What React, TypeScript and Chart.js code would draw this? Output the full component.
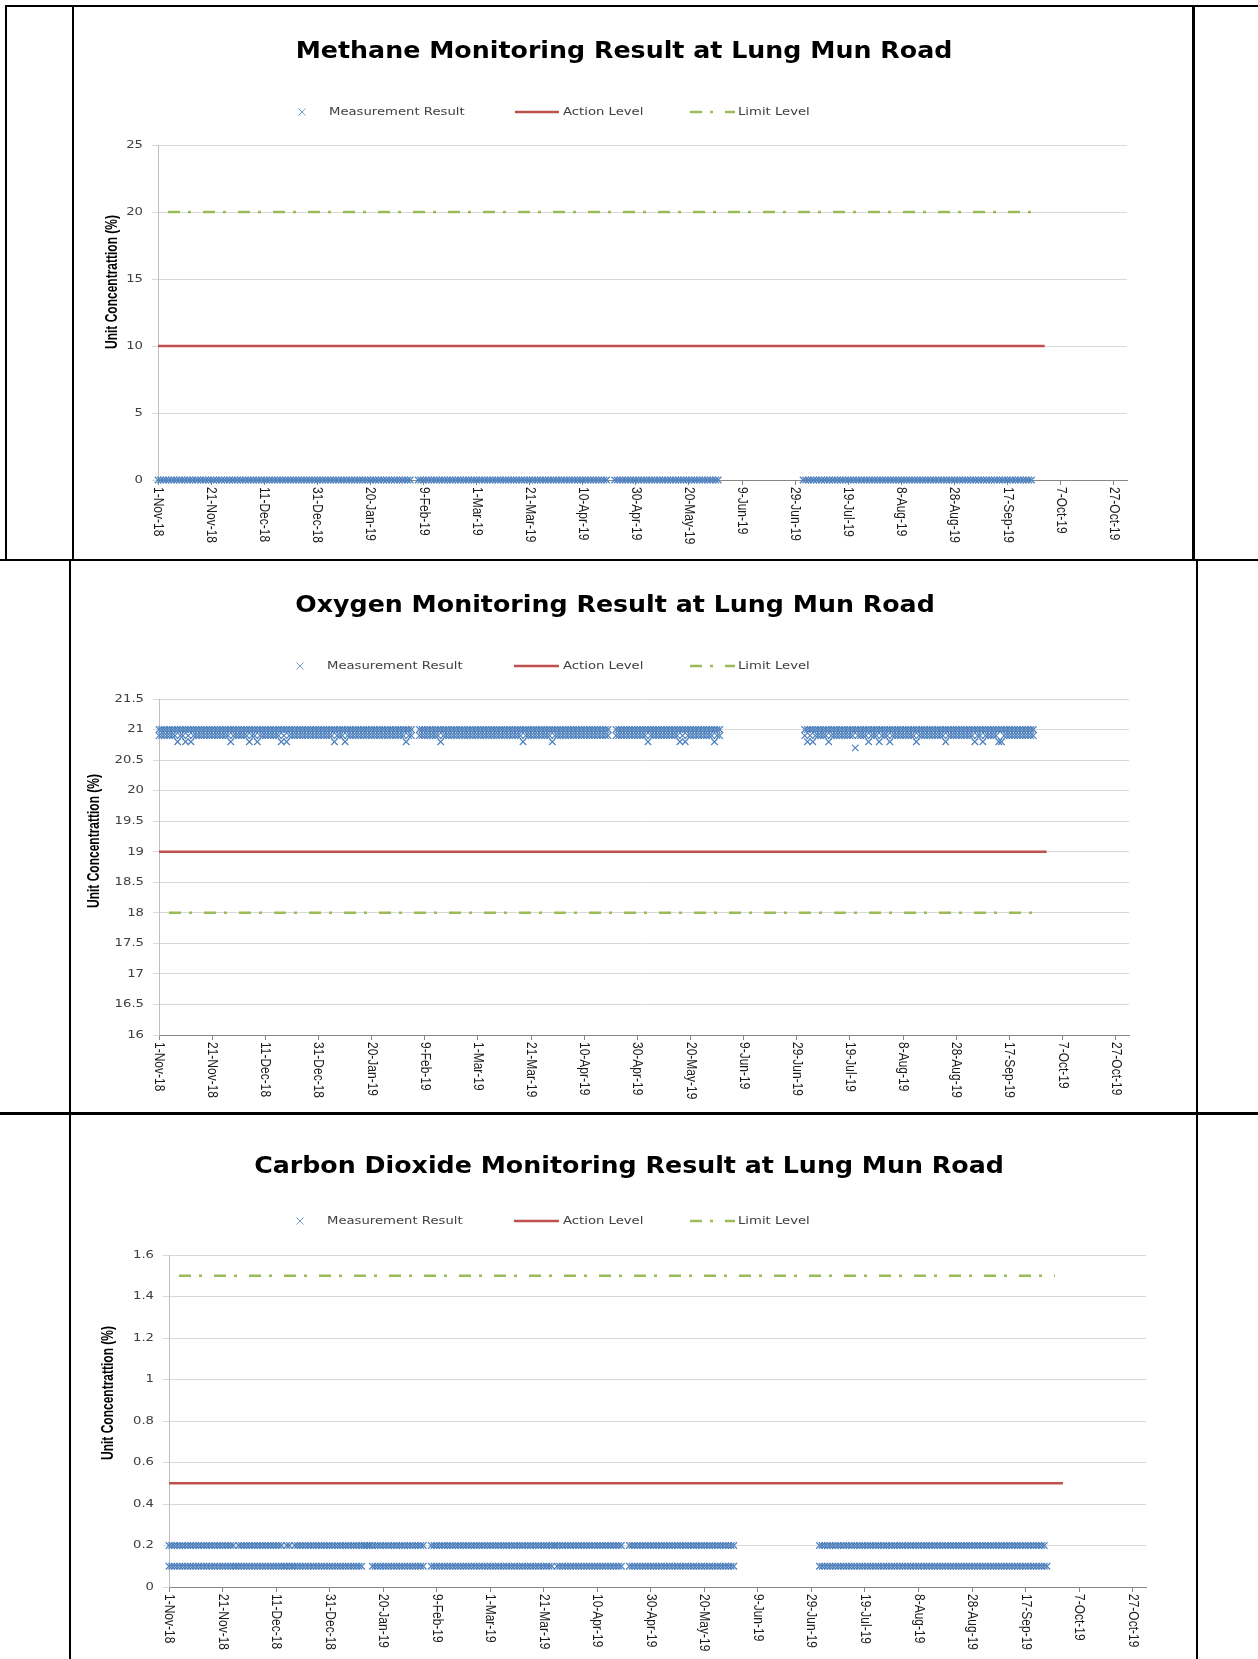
import React, { useEffect, useRef } from 'react';
import { Chart, registerables } from 'chart.js';

Chart.register(...registerables);

// ---------------- data ----------------
const chartTitles = [
  'Methane Monitoring Result at Lung Mun Road',
  'Oxygen Monitoring Result at Lung Mun Road',
  'Carbon Dioxide Monitoring Result at Lung Mun Road',
];
const seriesNames = ['Measurement Result', 'Action Level', 'Limit Level'];
const yAxisTitle = 'Unit Concentrattion (%)';

const xAxisStart = '2018-11-01';
const xAxisEnd = '2019-11-01';
const xTickDates = [
  '2018-11-01', '2018-11-21', '2018-12-11', '2018-12-31', '2019-01-20', '2019-02-09', '2019-03-01',
  '2019-03-21', '2019-04-10', '2019-04-30', '2019-05-20', '2019-06-09', '2019-06-29', '2019-07-19',
  '2019-08-08', '2019-08-28', '2019-09-17', '2019-10-07', '2019-10-27',
];
const xTickLabels = [
  '1-Nov-18', '21-Nov-18', '11-Dec-18', '31-Dec-18', '20-Jan-19', '9-Feb-19', '1-Mar-19',
  '21-Mar-19', '10-Apr-19', '30-Apr-19', '20-May-19', '9-Jun-19', '29-Jun-19', '19-Jul-19',
  '8-Aug-19', '28-Aug-19', '17-Sep-19', '7-Oct-19', '27-Oct-19',
];

const methaneYTicks = [0, 5, 10, 15, 20, 25];
const oxygenYTicks = [16, 16.5, 17, 17.5, 18, 18.5, 19, 19.5, 20, 20.5, 21, 21.5];
const co2YTicks = [0, 0.2, 0.4, 0.6, 0.8, 1, 1.2, 1.4, 1.6];

const methaneActionLevel = 10;
const methaneLimitLevel = 20;
const oxygenActionLevel = 19;
const oxygenLimitLevel = 18;
const co2ActionLevel = 0.5;
const co2LimitLevel = 1.5;
const actionLevelDates = ['2018-11-01', '2019-10-01'];
const limitLevelDates = ['2018-11-01', '2019-09-28'];

// monitoring days, month by month
const sampleMonths = ['2018-11', '2018-12', '2019-01', '2019-02', '2019-03', '2019-04', '2019-05', '2019-07', '2019-08', '2019-09'];
const sampleDays: number[][] = [
  [1, 2, 3, 4, 5, 6, 7, 8, 9, 10, 11, 12, 13, 14, 15, 16, 17, 18, 19, 20, 21, 22, 23, 24, 25, 26, 27, 28, 29, 30],
  [1, 2, 3, 4, 5, 6, 7, 8, 9, 10, 11, 12, 13, 14, 15, 16, 17, 18, 19, 20, 21, 22, 23, 24, 25, 26, 27, 28, 29, 30, 31],
  [1, 2, 3, 4, 5, 6, 7, 8, 9, 10, 11, 12, 13, 14, 15, 16, 17, 18, 19, 20, 21, 22, 23, 24, 25, 26, 27, 28, 29, 30, 31],
  [1, 2, 3, 4, 7, 8, 9, 10, 11, 12, 13, 14, 15, 16, 17, 18, 19, 20, 21, 22, 23, 24, 25, 26, 27, 28],
  [1, 2, 3, 4, 5, 6, 7, 8, 9, 10, 11, 12, 13, 14, 15, 16, 17, 18, 19, 20, 21, 22, 23, 24, 25, 26, 27, 28, 29, 30, 31],
  [1, 2, 3, 4, 5, 6, 7, 8, 9, 10, 11, 12, 13, 14, 15, 16, 17, 18, 19, 22, 23, 24, 25, 26, 27, 28, 29, 30],
  [1, 2, 3, 4, 5, 6, 7, 8, 9, 10, 11, 12, 13, 14, 15, 16, 17, 18, 19, 20, 21, 22, 23, 24, 25, 26, 27, 28, 29, 30, 31],
  [2, 3, 4, 5, 6, 7, 8, 9, 10, 11, 12, 13, 14, 15, 16, 17, 18, 19, 20, 21, 22, 23, 24, 25, 26, 27, 28, 29, 30, 31],
  [1, 2, 3, 4, 5, 6, 7, 8, 9, 10, 11, 12, 13, 14, 15, 16, 17, 18, 19, 20, 21, 22, 23, 24, 25, 26, 27, 28, 29, 30, 31],
  [1, 2, 3, 4, 5, 6, 7, 8, 9, 10, 11, 12, 13, 14, 15, 16, 17, 18, 19, 20, 21, 22, 23, 24, 25, 26],
];

const methaneReadings: number[][] = [
  [0, 0, 0, 0, 0, 0, 0, 0, 0, 0, 0, 0, 0, 0, 0, 0, 0, 0, 0, 0, 0, 0, 0, 0, 0, 0, 0, 0, 0, 0],
  [0, 0, 0, 0, 0, 0, 0, 0, 0, 0, 0, 0, 0, 0, 0, 0, 0, 0, 0, 0, 0, 0, 0, 0, 0, 0, 0, 0, 0, 0, 0],
  [0, 0, 0, 0, 0, 0, 0, 0, 0, 0, 0, 0, 0, 0, 0, 0, 0, 0, 0, 0, 0, 0, 0, 0, 0, 0, 0, 0, 0, 0, 0],
  [0, 0, 0, 0, 0, 0, 0, 0, 0, 0, 0, 0, 0, 0, 0, 0, 0, 0, 0, 0, 0, 0, 0, 0, 0, 0],
  [0, 0, 0, 0, 0, 0, 0, 0, 0, 0, 0, 0, 0, 0, 0, 0, 0, 0, 0, 0, 0, 0, 0, 0, 0, 0, 0, 0, 0, 0, 0],
  [0, 0, 0, 0, 0, 0, 0, 0, 0, 0, 0, 0, 0, 0, 0, 0, 0, 0, 0, 0, 0, 0, 0, 0, 0, 0, 0, 0],
  [0, 0, 0, 0, 0, 0, 0, 0, 0, 0, 0, 0, 0, 0, 0, 0, 0, 0, 0, 0, 0, 0, 0, 0, 0, 0, 0, 0, 0, 0, 0],
  [0, 0, 0, 0, 0, 0, 0, 0, 0, 0, 0, 0, 0, 0, 0, 0, 0, 0, 0, 0, 0, 0, 0, 0, 0, 0, 0, 0, 0, 0],
  [0, 0, 0, 0, 0, 0, 0, 0, 0, 0, 0, 0, 0, 0, 0, 0, 0, 0, 0, 0, 0, 0, 0, 0, 0, 0, 0, 0, 0, 0, 0],
  [0, 0, 0, 0, 0, 0, 0, 0, 0, 0, 0, 0, 0, 0, 0, 0, 0, 0, 0, 0, 0, 0, 0, 0, 0, 0],
];

const oxygenHighReadings: number[][] = [
  [21, 21, 21, 21, 21, 21, 21, 21, 21, 21, 21, 21, 21, 21, 21, 21, 21, 21, 21, 21, 21, 21, 21, 21, 21, 21, 21, 21, 21, 21],
  [21, 21, 21, 21, 21, 21, 21, 21, 21, 21, 21, 21, 21, 21, 21, 21, 21, 21, 21, 21, 21, 21, 21, 21, 21, 21, 21, 21, 21, 21, 21],
  [21, 21, 21, 21, 21, 21, 21, 21, 21, 21, 21, 21, 21, 21, 21, 21, 21, 21, 21, 21, 21, 21, 21, 21, 21, 21, 21, 21, 21, 21, 21],
  [21, 21, 21, 21, 21, 21, 21, 21, 21, 21, 21, 21, 21, 21, 21, 21, 21, 21, 21, 21, 21, 21, 21, 21, 21, 21],
  [21, 21, 21, 21, 21, 21, 21, 21, 21, 21, 21, 21, 21, 21, 21, 21, 21, 21, 21, 21, 21, 21, 21, 21, 21, 21, 21, 21, 21, 21, 21],
  [21, 21, 21, 21, 21, 21, 21, 21, 21, 21, 21, 21, 21, 21, 21, 21, 21, 21, 21, 21, 21, 21, 21, 21, 21, 21, 21, 21],
  [21, 21, 21, 21, 21, 21, 21, 21, 21, 21, 21, 21, 21, 21, 21, 21, 21, 21, 21, 21, 21, 21, 21, 21, 21, 21, 21, 21, 21, 21, 21],
  [21, 21, 21, 21, 21, 21, 21, 21, 21, 21, 21, 21, 21, 21, 21, 21, 21, 21, 21, 21, 21, 21, 21, 21, 21, 21, 21, 21, 21, 21],
  [21, 21, 21, 21, 21, 21, 21, 21, 21, 21, 21, 21, 21, 21, 21, 21, 21, 21, 21, 21, 21, 21, 21, 21, 21, 21, 21, 21, 21, 21, 21],
  [21, 21, 21, 21, 21, 21, 21, 21, 21, 21, 21, 21, 21, 21, 21, 21, 21, 21, 21, 21, 21, 21, 21, 21, 21, 21],
];

const oxygenLowReadings: number[][] = [
  [20.9, 20.9, 20.9, 20.9, 20.9, 20.9, 20.9, 20.8, 20.9, 20.9, 20.8, 20.9, 20.8, 20.9, 20.9, 20.9, 20.9, 20.9, 20.9, 20.9, 20.9, 20.9, 20.9, 20.9, 20.9, 20.9, 20.9, 20.8, 20.9, 20.9],
  [20.9, 20.9, 20.9, 20.9, 20.8, 20.9, 20.9, 20.8, 20.9, 20.9, 20.9, 20.9, 20.9, 20.9, 20.9, 20.9, 20.8, 20.9, 20.8, 20.9, 20.9, 20.9, 20.9, 20.9, 20.9, 20.9, 20.9, 20.9, 20.9, 20.9, 20.9],
  [20.9, 20.9, 20.9, 20.9, 20.9, 20.8, 20.9, 20.9, 20.9, 20.8, 20.9, 20.9, 20.9, 20.9, 20.9, 20.9, 20.9, 20.9, 20.9, 20.9, 20.9, 20.9, 20.9, 20.9, 20.9, 20.9, 20.9, 20.9, 20.9, 20.9, 20.9],
  [20.9, 20.8, 20.9, 20.9, 20.9, 20.9, 20.9, 20.9, 20.9, 20.9, 20.9, 20.9, 20.8, 20.9, 20.9, 20.9, 20.9, 20.9, 20.9, 20.9, 20.9, 20.9, 20.9, 20.9, 20.9, 20.9],
  [20.9, 20.9, 20.9, 20.9, 20.9, 20.9, 20.9, 20.9, 20.9, 20.9, 20.9, 20.9, 20.9, 20.9, 20.9, 20.9, 20.9, 20.8, 20.9, 20.9, 20.9, 20.9, 20.9, 20.9, 20.9, 20.9, 20.9, 20.9, 20.8, 20.9, 20.9],
  [20.9, 20.9, 20.9, 20.9, 20.9, 20.9, 20.9, 20.9, 20.9, 20.9, 20.9, 20.9, 20.9, 20.9, 20.9, 20.9, 20.9, 20.9, 20.9, 20.9, 20.9, 20.9, 20.9, 20.9, 20.9, 20.9, 20.9, 20.9],
  [20.9, 20.9, 20.9, 20.8, 20.9, 20.9, 20.9, 20.9, 20.9, 20.9, 20.9, 20.9, 20.9, 20.9, 20.9, 20.8, 20.9, 20.8, 20.9, 20.9, 20.9, 20.9, 20.9, 20.9, 20.9, 20.9, 20.9, 20.9, 20.8, 20.9, 20.9],
  [20.9, 20.8, 20.9, 20.8, 20.9, 20.9, 20.9, 20.9, 20.9, 20.8, 20.9, 20.9, 20.9, 20.9, 20.9, 20.9, 20.9, 20.9, 20.9, 20.7, 20.9, 20.9, 20.9, 20.9, 20.8, 20.9, 20.9, 20.9, 20.8, 20.9],
  [20.9, 20.9, 20.8, 20.9, 20.9, 20.9, 20.9, 20.9, 20.9, 20.9, 20.9, 20.9, 20.8, 20.9, 20.9, 20.9, 20.9, 20.9, 20.9, 20.9, 20.9, 20.9, 20.9, 20.8, 20.9, 20.9, 20.9, 20.9, 20.9, 20.9, 20.9],
  [20.9, 20.9, 20.9, 20.8, 20.9, 20.9, 20.8, 20.9, 20.9, 20.9, 20.9, 20.9, 20.8, 20.8, 20.9, 20.9, 20.9, 20.9, 20.9, 20.9, 20.9, 20.9, 20.9, 20.9, 20.9, 20.9],
];

const co2HighReadings: number[][] = [
  [0.2, 0.2, 0.2, 0.2, 0.2, 0.2, 0.2, 0.2, 0.2, 0.2, 0.2, 0.2, 0.2, 0.2, 0.2, 0.2, 0.2, 0.2, 0.2, 0.2, 0.2, 0.2, 0.2, 0.2, 0.2, 0.1, 0.2, 0.2, 0.2, 0.2],
  [0.2, 0.2, 0.2, 0.2, 0.2, 0.2, 0.2, 0.2, 0.2, 0.2, 0.2, 0.2, 0.2, 0.1, 0.2, 0.2, 0.1, 0.2, 0.2, 0.2, 0.2, 0.2, 0.2, 0.2, 0.2, 0.2, 0.2, 0.2, 0.2, 0.2, 0.2],
  [0.2, 0.2, 0.2, 0.2, 0.2, 0.2, 0.2, 0.2, 0.2, 0.2, 0.2, 0.2, 0.2, 0.2, 0.2, 0.2, 0.2, 0.2, 0.2, 0.2, 0.2, 0.2, 0.2, 0.2, 0.2, 0.2, 0.2, 0.2, 0.2, 0.2, 0.2],
  [0.2, 0.2, 0.2, 0.2, 0.2, 0.2, 0.2, 0.2, 0.2, 0.2, 0.2, 0.2, 0.2, 0.2, 0.2, 0.2, 0.2, 0.2, 0.2, 0.2, 0.2, 0.2, 0.2, 0.2, 0.2, 0.2],
  [0.2, 0.2, 0.2, 0.2, 0.2, 0.2, 0.2, 0.2, 0.2, 0.2, 0.2, 0.2, 0.2, 0.2, 0.2, 0.2, 0.2, 0.2, 0.2, 0.2, 0.2, 0.2, 0.2, 0.2, 0.2, 0.2, 0.2, 0.2, 0.2, 0.2, 0.2],
  [0.2, 0.2, 0.2, 0.2, 0.2, 0.2, 0.2, 0.2, 0.2, 0.2, 0.2, 0.2, 0.2, 0.2, 0.2, 0.2, 0.2, 0.2, 0.2, 0.2, 0.2, 0.2, 0.2, 0.2, 0.2, 0.2, 0.2, 0.2],
  [0.2, 0.2, 0.2, 0.2, 0.2, 0.2, 0.2, 0.2, 0.2, 0.2, 0.2, 0.2, 0.2, 0.2, 0.2, 0.2, 0.2, 0.2, 0.2, 0.2, 0.2, 0.2, 0.2, 0.2, 0.2, 0.2, 0.2, 0.2, 0.2, 0.2, 0.2],
  [0.2, 0.2, 0.2, 0.2, 0.2, 0.2, 0.2, 0.2, 0.2, 0.2, 0.2, 0.2, 0.2, 0.2, 0.2, 0.2, 0.2, 0.2, 0.2, 0.2, 0.2, 0.2, 0.2, 0.2, 0.2, 0.2, 0.2, 0.2, 0.2, 0.2],
  [0.2, 0.2, 0.2, 0.2, 0.2, 0.2, 0.2, 0.2, 0.2, 0.2, 0.2, 0.2, 0.2, 0.2, 0.2, 0.2, 0.2, 0.2, 0.2, 0.2, 0.2, 0.2, 0.2, 0.2, 0.2, 0.2, 0.2, 0.2, 0.2, 0.2, 0.2],
  [0.2, 0.2, 0.2, 0.2, 0.2, 0.2, 0.2, 0.2, 0.2, 0.2, 0.2, 0.2, 0.2, 0.2, 0.2, 0.2, 0.2, 0.2, 0.2, 0.2, 0.2, 0.2, 0.2, 0.2],
];

const co2LowReadings: number[][] = [
  [0.1, 0.1, 0.1, 0.1, 0.1, 0.1, 0.1, 0.1, 0.1, 0.1, 0.1, 0.1, 0.1, 0.1, 0.1, 0.1, 0.1, 0.1, 0.1, 0.1, 0.1, 0.1, 0.1, 0.1, 0.1, 0.1, 0.1, 0.1, 0.1, 0.1],
  [0.1, 0.1, 0.1, 0.1, 0.1, 0.1, 0.1, 0.1, 0.1, 0.1, 0.1, 0.1, 0.1, 0.1, 0.1, 0.1, 0.1, 0.1, 0.1, 0.1, 0.1, 0.1, 0.1, 0.1, 0.1, 0.1, 0.1, 0.1, 0.1, 0.1, 0.1],
  [0.1, 0.1, 0.1, 0.1, 0.1, 0.1, 0.1, 0.1, 0.1, 0.1, 0.1, 0.1, 0.2, 0.2, 0.2, 0.1, 0.1, 0.1, 0.1, 0.1, 0.1, 0.1, 0.1, 0.1, 0.1, 0.1, 0.1, 0.1, 0.1, 0.1, 0.1],
  [0.1, 0.1, 0.1, 0.1, 0.1, 0.1, 0.1, 0.1, 0.1, 0.1, 0.1, 0.1, 0.1, 0.1, 0.1, 0.1, 0.1, 0.1, 0.1, 0.1, 0.1, 0.1, 0.1, 0.1, 0.1, 0.1],
  [0.1, 0.1, 0.1, 0.1, 0.1, 0.1, 0.1, 0.1, 0.1, 0.1, 0.1, 0.1, 0.1, 0.1, 0.1, 0.1, 0.1, 0.1, 0.1, 0.1, 0.1, 0.1, 0.1, 0.1, 0.2, 0.1, 0.1, 0.1, 0.1, 0.1, 0.1],
  [0.1, 0.1, 0.1, 0.1, 0.1, 0.1, 0.1, 0.1, 0.1, 0.1, 0.1, 0.1, 0.1, 0.1, 0.1, 0.1, 0.1, 0.1, 0.1, 0.1, 0.1, 0.1, 0.1, 0.1, 0.1, 0.1, 0.1, 0.1],
  [0.1, 0.1, 0.1, 0.1, 0.1, 0.1, 0.1, 0.1, 0.1, 0.1, 0.1, 0.1, 0.1, 0.1, 0.1, 0.1, 0.1, 0.1, 0.1, 0.1, 0.1, 0.1, 0.1, 0.1, 0.1, 0.1, 0.1, 0.1, 0.1, 0.1, 0.1],
  [0.1, 0.1, 0.1, 0.1, 0.1, 0.1, 0.1, 0.1, 0.1, 0.1, 0.1, 0.1, 0.1, 0.1, 0.1, 0.1, 0.1, 0.1, 0.1, 0.1, 0.1, 0.1, 0.1, 0.1, 0.1, 0.1, 0.1, 0.1, 0.1, 0.1],
  [0.1, 0.1, 0.1, 0.1, 0.1, 0.1, 0.1, 0.1, 0.1, 0.1, 0.1, 0.1, 0.1, 0.1, 0.1, 0.1, 0.1, 0.1, 0.1, 0.1, 0.1, 0.1, 0.1, 0.1, 0.1, 0.1, 0.1, 0.1, 0.1, 0.1, 0.1],
  [0.1, 0.1, 0.1, 0.1, 0.1, 0.1, 0.1, 0.1, 0.1, 0.1, 0.1, 0.1, 0.1, 0.1, 0.1, 0.1, 0.1, 0.1, 0.1, 0.1, 0.1, 0.1, 0.1, 0.1, 0.1],
];

// ---------------- helpers ----------------
const DAY_MS = 86400000;
function dateToUTC(s: string) {
  const [y, m, d] = s.split('-').map(Number);
  return Date.UTC(y, m - 1, d);
}
function dayIndex(s: string) {
  return Math.round((dateToUTC(s) - dateToUTC(xAxisStart)) / DAY_MS);
}
function buildPoints(readings: number[][]) {
  const pts: { x: number; y: number }[] = [];
  sampleMonths.forEach((month, mi) => {
    sampleDays[mi].forEach((day, di) => {
      const v = readings[mi] ? readings[mi][di] : undefined;
      if (v === undefined || v === null) return;
      pts.push({ x: dayIndex(`${month}-${String(day).padStart(2, '0')}`), y: v });
    });
  });
  return pts;
}

// ---------------- style / layout ----------------
const COLORS = {
  marker: '#4F81BD',
  action: '#C0504D',
  limit: '#9BBB59',
  grid: '#D9D9D9',
  yAxis: '#BFBFBF',
  xAxis: '#868686',
  text: '#404040',
};
const STRETCH = 1.2;
const TITLE_STRETCH = 1.1;
const Y_AXIS_W = 40;
const X_AXIS_H = 10;

type Panel = {
  canvas: { left: number; top: number; width: number; height: number };
  area: { x0: number; y0: number; x1: number; y1: number };
  titleCenter: [number, number];
  legendY: number;
  legendMarkerX: number;
  legendText1X: number;
  legendLine2: [number, number];
  legendText2X: number;
  legendLine3: [number, number];
  legendText3X: number;
  yTitleCenter: [number, number];
};

const panels: Panel[] = [
  {
    canvas: { left: 74, top: 8, width: 1118, height: 550 },
    area: { x0: 158, y0: 145, x1: 1127, y1: 480 },
    titleCenter: [624, 52],
    legendY: 112,
    legendMarkerX: 302,
    legendText1X: 329,
    legendLine2: [515, 559],
    legendText2X: 563,
    legendLine3: [690, 735],
    legendText3X: 738,
    yTitleCenter: [113, 282],
  },
  {
    canvas: { left: 72, top: 563, width: 1123, height: 548 },
    area: { x0: 159, y0: 699, x1: 1129, y1: 1035 },
    titleCenter: [615, 606],
    legendY: 666,
    legendMarkerX: 300,
    legendText1X: 327,
    legendLine2: [514, 559],
    legendText2X: 563,
    legendLine3: [690, 735],
    legendText3X: 738,
    yTitleCenter: [95, 841],
  },
  {
    canvas: { left: 72, top: 1116, width: 1123, height: 543 },
    area: { x0: 169, y0: 1255, x1: 1146, y1: 1587 },
    titleCenter: [629, 1167],
    legendY: 1221,
    legendMarkerX: 300,
    legendText1X: 327,
    legendLine2: [514, 559],
    legendText2X: 563,
    legendLine3: [690, 735],
    legendText3X: 738,
    yTitleCenter: [109, 1393],
  },
];

type Spec = {
  title: string;
  yTicks: number[];
  readings: number[][][];
  action: number;
  limit: number;
};

const specs: Spec[] = [
  { title: chartTitles[0], yTicks: methaneYTicks, readings: [methaneReadings], action: methaneActionLevel, limit: methaneLimitLevel },
  { title: chartTitles[1], yTicks: oxygenYTicks, readings: [oxygenHighReadings, oxygenLowReadings], action: oxygenActionLevel, limit: oxygenLimitLevel },
  { title: chartTitles[2], yTicks: co2YTicks, readings: [co2HighReadings, co2LowReadings], action: co2ActionLevel, limit: co2LimitLevel },
];

function drawStretched(ctx: CanvasRenderingContext2D, text: string, x: number, y: number, font: string, color: string, align: 'left' | 'center' | 'right', sx: number) {
  ctx.save();
  ctx.font = font;
  ctx.fillStyle = color;
  ctx.textBaseline = 'middle';
  ctx.textAlign = 'left';
  const w = ctx.measureText(text).width * sx;
  const left = align === 'left' ? x : align === 'center' ? x - w / 2 : x - w;
  ctx.translate(left, y);
  ctx.scale(sx, 1);
  ctx.fillText(text, 0, 0);
  ctx.restore();
}

function makeDecor(panel: Panel, spec: Spec) {
  return {
    id: 'excelDecor',
    afterDraw(chart: any) {
      const ctx: CanvasRenderingContext2D = chart.ctx;
      const ox = panel.canvas.left;
      const oy = panel.canvas.top;
      const xs = chart.scales.x;
      const ys = chart.scales.y;
      const ds = chart.data.datasets;

      // title
      drawStretched(ctx, spec.title, panel.titleCenter[0] - ox, panel.titleCenter[1] - oy, 'bold 23px "DejaVu Sans"', '#000000', 'center', TITLE_STRETCH);

      // legend
      const ly = panel.legendY - oy;
      const legendFont = '11px "DejaVu Sans"';
      ctx.save();
      ctx.strokeStyle = ds[0].borderColor;
      ctx.lineWidth = 0.8;
      const mx = panel.legendMarkerX - ox;
      const r = 3.5;
      ctx.beginPath();
      ctx.moveTo(mx - r, ly - r);
      ctx.lineTo(mx + r, ly + r);
      ctx.moveTo(mx + r, ly - r);
      ctx.lineTo(mx - r, ly + r);
      ctx.stroke();
      ctx.restore();
      drawStretched(ctx, seriesNames[0], panel.legendText1X - ox, ly, legendFont, COLORS.text, 'left', STRETCH);

      ctx.save();
      ctx.strokeStyle = ds[1].borderColor;
      ctx.lineWidth = ds[1].borderWidth;
      ctx.beginPath();
      ctx.moveTo(panel.legendLine2[0] - ox, ly);
      ctx.lineTo(panel.legendLine2[1] - ox, ly);
      ctx.stroke();
      ctx.restore();
      drawStretched(ctx, seriesNames[1], panel.legendText2X - ox, ly, legendFont, COLORS.text, 'left', STRETCH);

      ctx.save();
      ctx.strokeStyle = ds[2].borderColor;
      ctx.lineWidth = ds[2].borderWidth;
      ctx.setLineDash(ds[2].borderDash);
      ctx.beginPath();
      ctx.moveTo(panel.legendLine3[0] - ox, ly);
      ctx.lineTo(panel.legendLine3[1] - ox, ly);
      ctx.stroke();
      ctx.restore();
      drawStretched(ctx, seriesNames[2], panel.legendText3X - ox, ly, legendFont, COLORS.text, 'left', STRETCH);

      // y tick labels
      ys.ticks.forEach((t: any) => {
        const y = ys.getPixelForValue(t.value);
        drawStretched(ctx, String(t.value), ys.right - 15, y, '11px "DejaVu Sans"', COLORS.text, 'right', STRETCH);
      });

      // x tick labels (rotated clockwise)
      xs.ticks.forEach((t: any, i: number) => {
        const x = xs.getPixelForValue(t.value);
        ctx.save();
        ctx.translate(x, xs.top + 7);
        ctx.rotate(Math.PI / 2);
        ctx.scale(1, STRETCH);
        ctx.font = '12px "Liberation Sans"';
        ctx.fillStyle = '#1a1a1a';
        ctx.textAlign = 'left';
        ctx.textBaseline = 'middle';
        ctx.fillText(xTickLabels[i] ?? '', 0, 0);
        ctx.restore();
      });

      // y axis title
      ctx.save();
      ctx.translate(panel.yTitleCenter[0] - ox, panel.yTitleCenter[1] - oy);
      ctx.rotate(-Math.PI / 2);
      ctx.scale(1, 1.3);
      ctx.font = 'bold 12px "Liberation Sans"';
      ctx.fillStyle = '#000000';
      ctx.textAlign = 'center';
      ctx.textBaseline = 'middle';
      ctx.fillText(yAxisTitle, 0, 0);
      ctx.restore();
    },
  };
}

function buildConfig(panel: Panel, spec: Spec): any {
  const c = panel.canvas;
  const a = panel.area;
  const measurement = spec.readings.flatMap((r) => buildPoints(r));
  const actionPts = actionLevelDates.map((d) => ({ x: dayIndex(d), y: spec.action }));
  const limitPts = limitLevelDates.map((d) => ({ x: dayIndex(d), y: spec.limit }));
  const yMin = spec.yTicks[0];
  const yMax = spec.yTicks[spec.yTicks.length - 1];
  return {
    type: 'scatter',
    data: {
      datasets: [
        {
          label: seriesNames[0],
          data: measurement,
          pointStyle: 'crossRot',
          pointRadius: 4.6,
          pointHoverRadius: 4.6,
          pointBorderWidth: 1.2,
          borderColor: COLORS.marker,
          backgroundColor: COLORS.marker,
          showLine: false,
          clip: false,
        },
        {
          label: seriesNames[1],
          type: 'line',
          data: actionPts,
          borderColor: COLORS.action,
          backgroundColor: COLORS.action,
          borderWidth: 2.5,
          pointRadius: 0,
          showLine: true,
          fill: false,
        },
        {
          label: seriesNames[2],
          type: 'line',
          data: limitPts,
          borderColor: COLORS.limit,
          backgroundColor: COLORS.limit,
          borderWidth: 2.5,
          borderDash: [12, 8, 3, 12],
          borderDashOffset: 25,
          pointRadius: 0,
          showLine: true,
          fill: false,
        },
      ],
    },
    options: {
      responsive: false,
      maintainAspectRatio: false,
      animation: false,
      events: [],
      layout: {
        padding: {
          left: a.x0 - c.left - Y_AXIS_W,
          top: a.y0 - c.top,
          right: c.left + c.width - a.x1,
          bottom: c.top + c.height - a.y1 - X_AXIS_H,
        },
      },
      plugins: {
        legend: { display: false },
        title: { display: false },
        tooltip: { enabled: false },
      },
      scales: {
        x: {
          type: 'linear',
          position: 'bottom',
          min: dayIndex(xAxisStart),
          max: dayIndex(xAxisEnd),
          grid: { display: true, drawOnChartArea: false, drawTicks: true, tickLength: 5, color: COLORS.xAxis, lineWidth: 1 },
          border: { display: true, color: COLORS.xAxis, width: 1 },
          ticks: { display: false },
          afterBuildTicks: (s: any) => {
            s.ticks = xTickDates.map((d) => ({ value: dayIndex(d) }));
          },
          afterFit: (s: any) => {
            s.height = X_AXIS_H;
          },
        },
        y: {
          type: 'linear',
          position: 'left',
          min: yMin,
          max: yMax,
          grid: { display: true, drawOnChartArea: true, drawTicks: true, tickLength: 6, color: COLORS.grid, lineWidth: 1 },
          border: { display: true, color: COLORS.yAxis, width: 1 },
          ticks: { display: false },
          afterBuildTicks: (s: any) => {
            s.ticks = spec.yTicks.map((v) => ({ value: v }));
          },
          afterFit: (s: any) => {
            s.width = Y_AXIS_W;
          },
        },
      },
    },
    plugins: [makeDecor(panel, spec)],
  };
}

function ChartPanel({ panel, spec }: { panel: Panel; spec: Spec }) {
  const ref = useRef<HTMLCanvasElement>(null);
  useEffect(() => {
    if (!ref.current) return;
    const chart = new Chart(ref.current, buildConfig(panel, spec));
    return () => chart.destroy();
  }, [panel, spec]);
  const c = panel.canvas;
  return (
    <canvas
      ref={ref}
      width={c.width}
      height={c.height}
      style={{ position: 'absolute', left: c.left, top: c.top, width: c.width, height: c.height }}
    />
  );
}

const tableLines = [
  { left: 5, top: 5, width: 1253, height: 2 },
  { left: 5, top: 5, width: 2, height: 556 },
  { left: 72, top: 6, width: 2, height: 555 },
  { left: 1192, top: 6, width: 3, height: 555 },
  { left: 0, top: 559, width: 1258, height: 2 },
  { left: 69, top: 560, width: 2, height: 1099 },
  { left: 1196, top: 560, width: 2, height: 1099 },
  { left: 0, top: 1112, width: 1258, height: 3 },
];

export default function App() {
  useEffect(() => {
    document.body.style.margin = '0';
    document.body.style.background = '#ffffff';
    document.documentElement.style.overflow = 'hidden';
  }, []);
  return (
    <div style={{ position: 'absolute', left: 0, top: 0, width: 1258, height: 1659, overflow: 'hidden', background: '#ffffff' }}>
      {tableLines.map((l, i) => (
        <div key={i} style={{ position: 'absolute', left: l.left, top: l.top, width: l.width, height: l.height, background: '#000000' }} />
      ))}
      {panels.map((p, i) => (
        <ChartPanel key={i} panel={p} spec={specs[i]} />
      ))}
    </div>
  );
}
